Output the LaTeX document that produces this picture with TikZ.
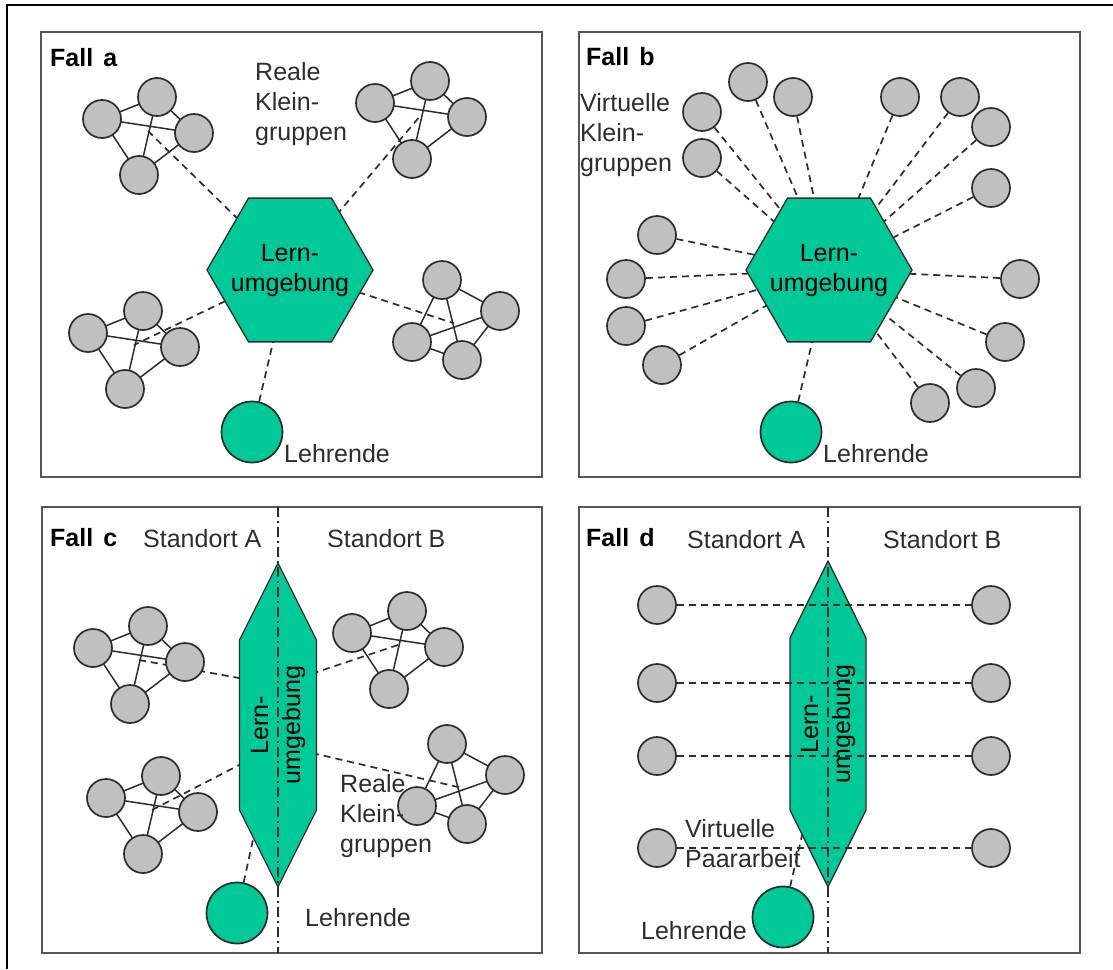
\documentclass[tikz,border=0pt]{standalone}
\usepackage{fontspec}
\setmainfont{Liberation Sans}
\usetikzlibrary{shapes.geometric,backgrounds}

\definecolor{lerngruen}{RGB}{0,200,150}
\definecolor{kreisgrau}{RGB}{192,192,192}
\definecolor{rahmengrau}{RGB}{85,85,85}
\definecolor{schrift}{RGB}{45,45,45}

% vier Kreise, jeder mit jedem verbunden
\def\formA{1/0/0,2/55/-22,3/92/14,4/37/56}
\def\formB{1/30/-62,2/88/-31,3/0/0,4/50/18}
\newcommand{\gruppe}[4]{%
  \begin{scope}[shift={(#2,#3)}]
    \foreach \i/\dx/\dy in #4 \node[kreis] (#1\i) at (\dx,\dy) {};
  \end{scope}
  \coordinate (#1) at (barycentric cs:#11=1,#12=1,#13=1,#14=1);
  \begin{scope}[on background layer]
    \foreach \a/\b in {1/2,1/3,1/4,2/3,2/4,3/4}
      \draw[band] (#1\a.center) -- (#1\b.center);
  \end{scope}}

\begin{document}
\begin{tikzpicture}[x=1pt, y=-1pt,
	rahmen/.style={draw=rahmengrau,line width=2.4pt},
	kreis/.style={circle,draw=schrift,fill=kreisgrau,line width=1.7pt,minimum size=38pt,inner sep=0pt},
	lehrende/.style={circle,draw=schrift,fill=lerngruen,line width=1.7pt,minimum size=61pt,inner sep=0pt},
	lern/.style={draw=schrift,fill=lerngruen,line width=1.3pt},
	hexa/.style={lern,regular polygon,regular polygon sides=6,minimum size=166pt,inner sep=0pt},
	band/.style={draw=schrift,line width=1.5pt},
	link/.style={draw=schrift,line width=1.7pt,dash pattern=on 7pt off 5pt},
	achse/.style={draw=schrift,line width=1.5pt,dash pattern=on 10pt off 4pt on 2pt off 4pt},
	txt/.style={font=\fontsize{25}{30}\selectfont,text=schrift,align=left,inner sep=0pt},
	hextxt/.style={font=\fontsize{25}{30}\selectfont,align=center,inner sep=0pt},
	fall/.style={font=\fontsize{25}{30}\selectfont\bfseries,inner sep=0pt,anchor=west}]

	\useasboundingbox (0,0) rectangle (1113,969);
	\draw[line width=1.5pt] (7,969) -- (7,5) -- (1113,5);
	\draw[rahmen] (41,32) rectangle (542,477);
	\draw[rahmen] (579,32) rectangle (1080,477);
	\draw[rahmen] (42,507) rectangle (542,953);
	\draw[rahmen] (579,507) rectangle (1080,953);

	% Fall a
	\node[fall] (falla) at (50,58) {Fall\hspace{0.4em}a};
	\node[hexa] (lerna) at (290,270) {};
	\node[hextxt] (lerntxta) at (lerna) {Lern-\\umgebung};
	\gruppe{ga}{102}{119}{\formA}
	\gruppe{gb}{375}{103}{\formA}
	\gruppe{gc}{88}{333}{\formA}
	\gruppe{gd}{412}{342}{\formB}
	\node[lehrende] (lehra) at (252,432) {};
	\node[txt,anchor=west] (reala) at (255,104) {Reale\\Klein-\\gruppen};
	\node[txt,anchor=west] (lehrtxta) at (284,454) {Lehrende};
	\begin{scope}[on background layer]
		\foreach \g in {ga,gb,gc,gd} \draw[link] (lerna.center) -- (\g);
		\draw[link] (lehra) -- (lerna.center);
	\end{scope}

	% Fall b
	\node[fall] (fallb) at (586,57) {Fall\hspace{0.4em}b};
	\node[hexa] (lernb) at (829,270) {};
	\node[hextxt] (lerntxtb) at (lernb) {Lern-\\umgebung};
	\foreach \n/\x/\y in {1/748/82,2/793/97,3/702/112,4/702/158,5/900/97,6/960/97,
		7/991/127,8/991/188,9/657/235,10/626/279,11/626/326,12/662/365,
		13/1020/279,14/1005/342,15/976/388,16/930/403}
		\node[kreis] (vk\n) at (\x,\y) {};
	\node[lehrende] (lehrb) at (791,432) {};
	\node[txt,anchor=west] (virtb) at (580,135) {Virtuelle\\Klein-\\gruppen};
	\node[txt,anchor=west] (lehrtxtb) at (823,454) {Lehrende};
	\begin{scope}[on background layer]
		\foreach \n in {1,...,16} \draw[link] (vk\n) -- (lernb.center);
		\draw[link] (lehrb) -- (lernb.center);
	\end{scope}

	% Fall c
	\node[fall] (fallc) at (50,538) {Fall\hspace{0.4em}c};
	\node[txt,anchor=west] (stac) at (143,539) {Standort A};
	\node[txt,anchor=west] (stbc) at (327,539) {Standort B};
	\coordinate (lernc) at (278,725);
	\filldraw[lern] (lernc) ++(0,-162) -- ++(38.5,77) -- ++(0,170) -- ++(-38.5,77)
		-- ++(-38.5,-77) -- ++(0,-170) -- cycle;
	\node[hextxt,font=\fontsize{25}{32}\selectfont,rotate=90] (lerntxtc) at (lernc) {Lern-\\umgebung};
	\draw[achse] (278,507) -- (278,953);
	\gruppe{gh}{93}{648}{\formA}
	\gruppe{gi}{352}{633}{\formA}
	\gruppe{gj}{106}{798}{\formA}
	\gruppe{gk}{417}{806}{\formB}
	\coordinate (ankero) at (278,685);
	\coordinate (ankeru) at (278,745);
	\node[lehrende] (lehrc) at (237,913) {};
	\node[txt,anchor=west] (realc) at (340,816) {Reale\\Klein-\\gruppen};
	\node[txt,anchor=west] (lehrtxtc) at (305,918) {Lehrende};
	\begin{scope}[on background layer]
		\draw[link] (gh) -- (ankero);
		\draw[link] (gi) -- (ankero);
		\draw[link] (gj) -- (ankeru);
		\draw[link] (gk) -- (ankeru);
		\draw[link] (lehrc) -- (lernc);
	\end{scope}

	% Fall d
	\node[fall] (falld) at (586,538) {Fall\hspace{0.4em}d};
	\node[txt,anchor=west] (stad) at (687,540) {Standort A};
	\node[txt,anchor=west] (stbd) at (883,540) {Standort B};
	\coordinate (lernd) at (828,724);
	\filldraw[lern] (lernd) ++(0,-163) -- ++(38,77) -- ++(0,172) -- ++(-38,77)
		-- ++(-38,-77) -- ++(0,-172) -- cycle;
	\node[hextxt,font=\fontsize{25}{32}\selectfont,rotate=90] (lerntxtd) at (lernd) {Lern-\\umgebung};
	\foreach \n/\y in {1/605,2/683,3/756,4/848} {
		\node[kreis] (pa\n) at (657,\y) {};
		\node[kreis] (pb\n) at (991,\y) {};
		\draw[link] (pa\n) -- (pb\n);
	}
	\draw[achse] (828,507) -- (828,953);
	\node[lehrende] (lehrd) at (783,917) {};
	\node[txt,anchor=west] (virtd) at (685,844) {Virtuelle\\Paararbeit};
	\node[txt,anchor=east] (lehrtxtd) at (747,931) {Lehrende};
	\begin{scope}[on background layer]
		\draw[link] (lehrd) -- (lernd);
	\end{scope}
\end{tikzpicture}
\end{document}
